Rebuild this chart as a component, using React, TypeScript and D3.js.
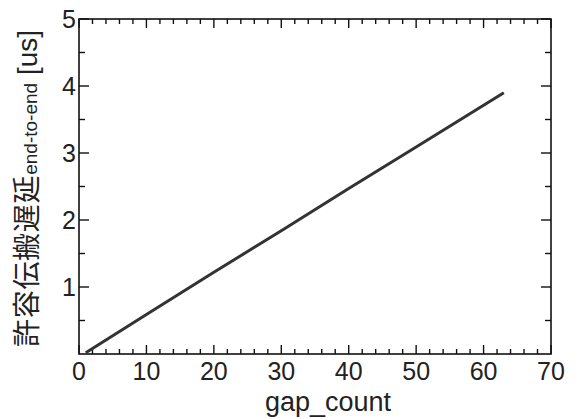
import * as d3 from "d3";
import { useEffect, useRef } from "react";

// values
const gapCount = [1, 10, 20, 30, 40, 50, 63];
const delayUs = [0.02, 0.59, 1.22, 1.84, 2.47, 3.09, 3.9];
const xMajor = [0, 10, 20, 30, 40, 50, 60, 70];
const yMajor = [1, 2, 3, 4, 5];

export default function App() {
  const ref = useRef<HTMLDivElement>(null);

  useEffect(() => {
    document.body.style.margin = "0";
    const width = 576;
    const height = 419;
    const margin = { top: 19, right: 25, bottom: 65, left: 79 };

    d3.select(ref.current).select("svg").remove();

    const svg = d3
      .select(ref.current)
      .append("svg")
      .attr("width", width)
      .attr("height", height)
      .style("display", "block")
      .style("background", "#fff");

    const x = d3.scaleLinear().domain([0, 70]).range([margin.left, width - margin.right]);
    const y = d3.scaleLinear().domain([0, 5]).range([height - margin.bottom, margin.top]);
    const x0 = x.range()[0], x1 = x.range()[1];
    const y0 = y.range()[0], y1 = y.range()[1];

    const xMinor = d3.range(0, 71, 2).filter((d) => d % 10 !== 0);
    const yMinor = d3.range(0.5, 5, 1);

    // inward ticks on all four sides, drawn as plain lines
    const ticks = svg.append("g").attr("stroke", "#111").attr("stroke-width", 1.4);
    const xTicks = [
      ...xMajor.map((v) => ({ v, len: 9 })),
      ...xMinor.map((v) => ({ v, len: 5 })),
    ];
    const yTicks = [
      ...yMajor.map((v) => ({ v, len: 10 })),
      ...yMinor.map((v) => ({ v, len: 6 })),
    ];
    xTicks.forEach(({ v, len }) => {
      ticks.append("line").attr("x1", x(v)).attr("x2", x(v)).attr("y1", y0).attr("y2", y0 - len);
      ticks.append("line").attr("x1", x(v)).attr("x2", x(v)).attr("y1", y1).attr("y2", y1 + len);
    });
    yTicks.forEach(({ v, len }) => {
      ticks.append("line").attr("x1", x0).attr("x2", x0 + len).attr("y1", y(v)).attr("y2", y(v));
      ticks.append("line").attr("x1", x1).attr("x2", x1 - len).attr("y1", y(v)).attr("y2", y(v));
    });

    // frame
    svg
      .append("rect")
      .attr("x", x0)
      .attr("y", y1)
      .attr("width", x1 - x0)
      .attr("height", y0 - y1)
      .attr("fill", "none")
      .attr("stroke", "#111")
      .attr("stroke-width", 1.6);

    // tick labels
    const font = "'Liberation Sans', Arial, sans-serif";
    svg
      .append("g")
      .selectAll("text")
      .data(xMajor)
      .enter()
      .append("text")
      .attr("x", (d) => x(d))
      .attr("y", y0 + 26)
      .attr("text-anchor", "middle")
      .attr("font-family", font)
      .attr("font-size", 25)
      .attr("fill", "#222")
      .text((d) => d);

    svg
      .append("g")
      .selectAll("text")
      .data(yMajor)
      .enter()
      .append("text")
      .attr("x", x0 - 3)
      .attr("y", (d) => y(d) + 9)
      .attr("text-anchor", "end")
      .attr("font-family", font)
      .attr("font-size", 25)
      .attr("fill", "#222")
      .text((d) => d);

    // line
    const line = d3
      .line<number>()
      .x((d, i) => x(gapCount[i]))
      .y((d) => y(d));
    svg
      .append("path")
      .datum(delayUs)
      .attr("d", line)
      .attr("fill", "none")
      .attr("stroke", "#333")
      .attr("stroke-width", 3);

    // axis titles
    svg
      .append("text")
      .attr("x", 328)
      .attr("y", 411)
      .attr("text-anchor", "middle")
      .attr("font-family", font)
      .attr("font-size", 27)
      .attr("fill", "#222")
      .text("gap_count");

    const yt = svg
      .append("text")
      .attr("transform", "translate(37,347) rotate(-90)")
      .attr("fill", "#222");
    yt.append("tspan")
      .attr("font-family", "'Noto Sans CJK JP', sans-serif")
      .attr("font-size", 28)
      .attr("letter-spacing", 0.7)
      .text("許容伝搬遅延");
    yt.append("tspan")
      .attr("font-family", font)
      .attr("font-size", 19)
      .text("end-to-end");
    yt.append("tspan")
      .attr("font-family", font)
      .attr("font-size", 28)
      .text(" [us]");
  }, []);

  return <div ref={ref}></div>;
}
